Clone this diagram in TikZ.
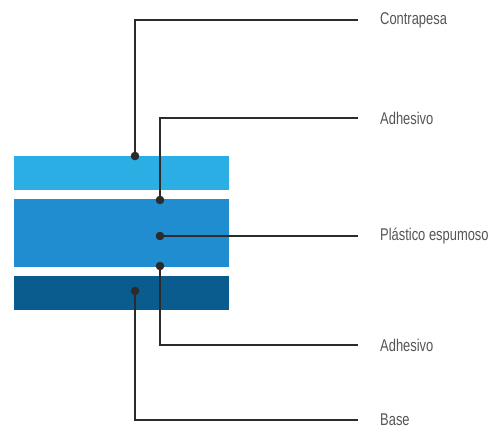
\documentclass[tikz,border=0pt]{standalone}
\usepackage{fontspec}
\setmainfont[FakeStretch=0.76]{Liberation Sans}
\usetikzlibrary{positioning,calc}
\definecolor{skin}{HTML}{2AAEE3}
\definecolor{foam}{HTML}{1F8DCF}
\definecolor{basecol}{HTML}{0B5C8E}
\definecolor{leadcol}{HTML}{2B2B2B}
\definecolor{labcol}{HTML}{555555}
\newcommand{\layerdot}[2]{
  \coordinate (#1) at #2;
}

\begin{document}
\begin{tikzpicture}[x=1pt,y=-1pt]
  \tikzset{
    leader/.style={draw=leadcol,line width=1.8pt},
    tag/.style={anchor=west,inner xsep=22pt,inner ysep=0pt,text=labcol,font=\fontsize{17}{19}\selectfont}
  }
  \useasboundingbox (0,0) rectangle (499,429);
  % layers
  \fill[skin] (14,156) rectangle (229,190);
  \fill[foam] (14,199) rectangle (229,267);
  \fill[basecol] (14,276) rectangle (229,310);
  % labels
  \node[tag] (contra) at (358,20) {Contrapesa};
  \node[tag] (adhtop) at (358,118) {Adhesivo};
  \node[tag] (foamlab) at (358,236) {Plástico espumoso};
  \node[tag] (adhbot) at (358,345) {Adhesivo};
  \node[tag] (baselab) at (358,420) {Base};
  % leaders
  \layerdot{dcontra}{(135,156)}
  \layerdot{dadhtop}{(160,200)}
  \layerdot{dfoam}{(160,236)}
  \layerdot{dadhbot}{(160,266)}
  \layerdot{dbase}{(135,291)}
  \draw[leader] (dcontra) |- (contra.west);
  \draw[leader] (dadhtop) |- (adhtop.west);
  \draw[leader] (dfoam) -- (foamlab.west);
  \draw[leader] (dadhbot) |- (adhbot.west);
  \draw[leader] (dbase) |- (baselab.west);
  \foreach \d in {dcontra,dadhtop,dfoam,dadhbot,dbase}
    \fill[leadcol] (\d) circle (4.3);
\end{tikzpicture}
\end{document}
